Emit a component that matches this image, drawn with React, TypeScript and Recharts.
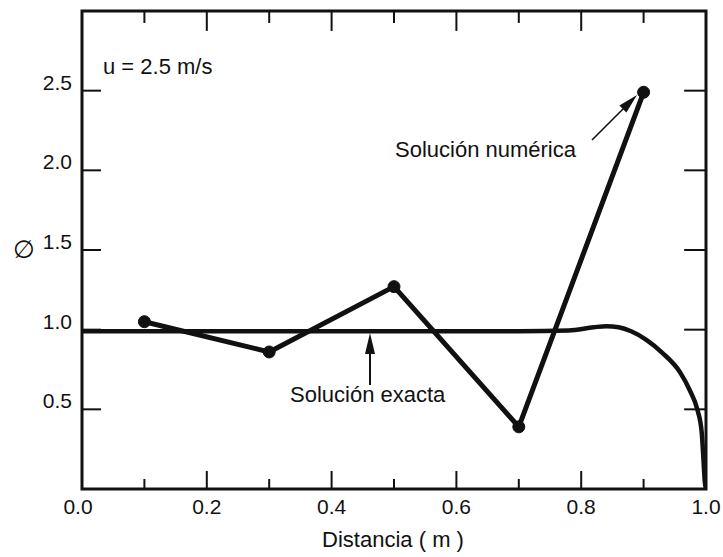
import React from 'react';
import { ComposedChart, Line, XAxis, YAxis, ReferenceLine } from 'recharts';

// Numerical solution at the node positions
const nodeX = [0.1, 0.3, 0.5, 0.7, 0.9];
const nodePhi = [1.05, 0.86, 1.27, 0.39, 2.49];

// Exact solution profile along the domain
const exactX = [0, 0.2, 0.4, 0.6, 0.7, 0.78, 0.82, 0.84, 0.86, 0.88, 0.905, 0.93, 0.958, 0.974, 0.986, 0.993, 0.996, 0.998, 1.0];
const exactPhi = [0.99, 0.99, 0.99, 0.99, 0.99, 0.995, 1.015, 1.022, 1.015, 0.99, 0.935, 0.855, 0.735, 0.62, 0.5, 0.36, 0.18, 0.05, 0];

// Axis ticks
const xTicks = [0, 0.1, 0.2, 0.3, 0.4, 0.5, 0.6, 0.7, 0.8, 0.9, 1.0];
const xLabeled = ['0.0', '0.2', '0.4', '0.6', '0.8', '1.0'];
const yTicks = [0.5, 1.0, 1.5, 2.0, 2.5];

const X_MIN = 0;
const X_MAX = 1;
const Y_MIN = 0;
const Y_MAX = 3;

// canvas and plot box
const W = 723;
const H = 557;
const PLOT_LEFT = 82;
const PLOT_RIGHT = 706;
const PLOT_TOP = 11;
const PLOT_BOTTOM = 489;

const numericData = nodeX.map((x, i) => ({ x, phi: nodePhi[i] }));
const exactData = exactX.map((x, i) => ({ x, phi: exactPhi[i] }));

const FONT = '"Liberation Sans", Arial, sans-serif';
const INK = '#111';

const isLabeled = (v: number) => xLabeled.includes(v.toFixed(1));

const BottomTick = (props: any) => {
  const { x, y, payload } = props;
  const v = payload.value as number;
  const major = isLabeled(v);
  return (
    <g>
      <line x1={x} x2={x} y1={y} y2={y - (major ? 18 : 10)} stroke={INK} strokeWidth={2} />
      {major && (
        <text x={x - (v === 0 ? 4 : 0)} y={y + 25} textAnchor="middle" fontFamily={FONT} fontSize={21} fill={INK}>
          {v.toFixed(1)}
        </text>
      )}
    </g>
  );
};

const LeftTick = (props: any) => {
  const { x, y, payload } = props;
  const v = payload.value as number;
  return (
    <g>
      <line x1={x} x2={x + 19} y1={y} y2={y} stroke={INK} strokeWidth={2} />
      <text x={x - 10} y={y - 1} textAnchor="end" fontFamily={FONT} fontSize={21} fill={INK}>
        {v.toFixed(1)}
      </text>
    </g>
  );
};

// inward tick lengths on the top and right frame, in data units
const TOP_MAJOR = 0.125;
const TOP_MINOR = 0.075;
const RIGHT_LEN = 0.035;

export default function App() {
  return (
    <div style={{ position: 'relative', width: W, height: H }}>
      <style>{'body{margin:0}.recharts-surface{overflow:visible}'}</style>
      <ComposedChart
        width={W}
        height={H}
        margin={{ top: PLOT_TOP, right: W - PLOT_RIGHT, bottom: 0, left: 0 }}
      >
        <XAxis
          xAxisId="bottom"
          dataKey="x"
          type="number"
          domain={[X_MIN, X_MAX]}
          ticks={xTicks}
          interval={0}
          height={H - PLOT_BOTTOM}
          tickSize={0}
          tickMargin={0}
          tickLine={false}
          axisLine={false}
          tick={<BottomTick />}
          allowDataOverflow
        />
        <YAxis
          yAxisId="left"
          type="number"
          domain={[Y_MIN, Y_MAX]}
          ticks={yTicks}
          interval={0}
          width={PLOT_LEFT}
          tickSize={0}
          tickMargin={0}
          tickLine={false}
          axisLine={false}
          tick={<LeftTick />}
          allowDataOverflow
        />

        {/* top and right inward ticks */}
        {xTicks.map((v) => (
          <ReferenceLine
            key={'t' + v}
            xAxisId="bottom"
            yAxisId="left"
            ifOverflow="visible"
            stroke={INK}
            strokeWidth={2}
            segment={[
              { x: v, y: Y_MAX },
              { x: v, y: Y_MAX - (isLabeled(v) ? TOP_MAJOR : TOP_MINOR) },
            ]}
          />
        ))}
        {yTicks.map((v) => (
          <ReferenceLine
            key={'r' + v}
            xAxisId="bottom"
            yAxisId="left"
            ifOverflow="visible"
            stroke={INK}
            strokeWidth={2}
            segment={[
              { x: X_MAX, y: v },
              { x: X_MAX - RIGHT_LEN, y: v },
            ]}
          />
        ))}

        <Line
          xAxisId="bottom"
          yAxisId="left"
          data={exactData}
          dataKey="phi"
          type="monotone"
          stroke={INK}
          strokeWidth={4.5}
          dot={false}
          activeDot={false}
          isAnimationActive={false}
        />
        <Line
          xAxisId="bottom"
          yAxisId="left"
          data={numericData}
          dataKey="phi"
          type="linear"
          stroke={INK}
          strokeWidth={5}
          strokeLinejoin="round"
          dot={{ r: 6, fill: INK, stroke: INK, strokeWidth: 1 }}
          activeDot={false}
          isAnimationActive={false}
        />
      </ComposedChart>
      <svg
        width={W}
        height={H}
        style={{ position: 'absolute', left: 0, top: 0, pointerEvents: 'none', overflow: 'visible' }}
      >
        {/* plot frame */}
        <rect
          x={PLOT_LEFT}
          y={PLOT_TOP}
          width={PLOT_RIGHT - PLOT_LEFT}
          height={PLOT_BOTTOM - PLOT_TOP}
          fill="none"
          stroke={INK}
          strokeWidth={3}
        />
        <g fontFamily={FONT} fontSize={22} fill={INK}>
          <text x={103} y={74}>u = 2.5 m/s</text>
          <text x={395} y={157}>Solución numérica</text>
          <text x={290} y={402}>Solución exacta</text>
          <text x={393} y={547} textAnchor="middle">Distancia ( m )</text>
        </g>
        <text x={24} y={258} textAnchor="middle" fontFamily='"DejaVu Sans", sans-serif' fontSize={25} fill={INK}>∅</text>
        {/* pointer to the exact profile */}
        <line x1={370} y1={385} x2={370} y2={351} stroke={INK} strokeWidth={2} />
        <polygon points="370,333 365,354 375,354" fill={INK} />
        {/* pointer to the numerical solution */}
        <line x1={592} y1={140} x2={625} y2={107} stroke={INK} strokeWidth={1.6} />
        <polygon points="637,95 626.4,112.6 619.4,105.6" fill={INK} />
      </svg>
    </div>
  );
}
